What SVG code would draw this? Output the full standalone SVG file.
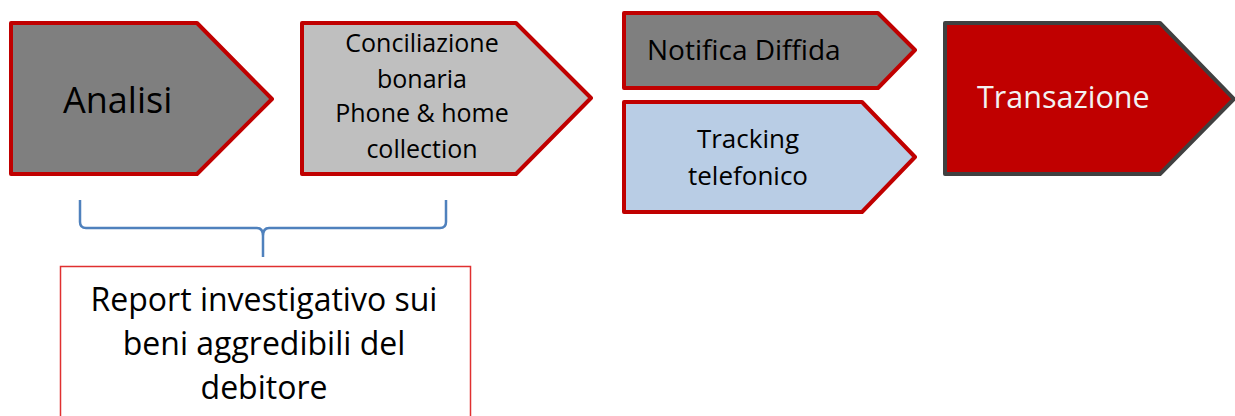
<svg xmlns="http://www.w3.org/2000/svg" width="1235" height="416" viewBox="0 0 1235 416">
<style>
.shape{stroke:#C00000;stroke-width:4;stroke-linejoin:round}
.t{font-family:"Open Sans","Liberation Sans",sans-serif;fill:#000}
.c{text-anchor:middle}
</style>
<rect x="0" y="0" width="1235" height="416" fill="#FFFFFF"/>
<g id="analisi">
<path class="shape" d="M11,23 H197 L272,99 L197,174 H11 Z" fill="#7F7F7F"/>
<text class="t" x="63" y="113" font-size="36">Analisi</text>
</g>
<g id="conciliazione">
<path class="shape" d="M302,23 H516 L591,98 L516,174 H302 Z" fill="#BFBFBF"/>
<text class="t c" x="422" y="52" font-size="25">Conciliazione</text>
<text class="t c" x="422" y="88" font-size="25">bonaria</text>
<text class="t c" x="422" y="122" font-size="25">Phone &amp; home</text>
<text class="t c" x="422" y="158" font-size="25">collection</text>
</g>
<g id="notifica">
<path class="shape" d="M624,13 H878 L915,50 L878,88 H624 Z" fill="#7F7F7F"/>
<text class="t" x="647" y="60" font-size="28">Notifica Diffida</text>
</g>
<g id="tracking">
<path class="shape" d="M624,102 H862 L915,157 L862,212 H624 Z" fill="#B9CDE5"/>
<text class="t c" x="748" y="148" font-size="26">Tracking</text>
<text class="t c" x="748" y="185" font-size="26">telefonico</text>
</g>
<g id="transazione">
<path d="M945,23 H1160 L1234,99 L1160,174 H945 Z" fill="#C00000" stroke="#404040" stroke-width="4" stroke-linejoin="round"/>
<text class="t" x="977" y="108" font-size="30.5" style="fill:#F2F2F2">Transazione</text>
</g>
<g id="connectors">
<path d="M80,200 V222 Q80,228 86,228 H257 Q263,228 263,236 V257 M263,236 Q263,228 269,228 H440 Q446,228 446,222 V200" fill="none" stroke="#4F81BD" stroke-width="2.5"/>
</g>
<g id="report">
<rect x="60.5" y="266.5" width="410" height="160" fill="#FFFFFF" stroke="#E03030" stroke-width="1.5"/>
<text class="t c" x="264" y="311" font-size="32">Report investigativo sui</text>
<text class="t c" x="264" y="355" font-size="32">beni aggredibili del</text>
<text class="t c" x="264" y="399" font-size="32">debitore</text>
</g>
</svg>
